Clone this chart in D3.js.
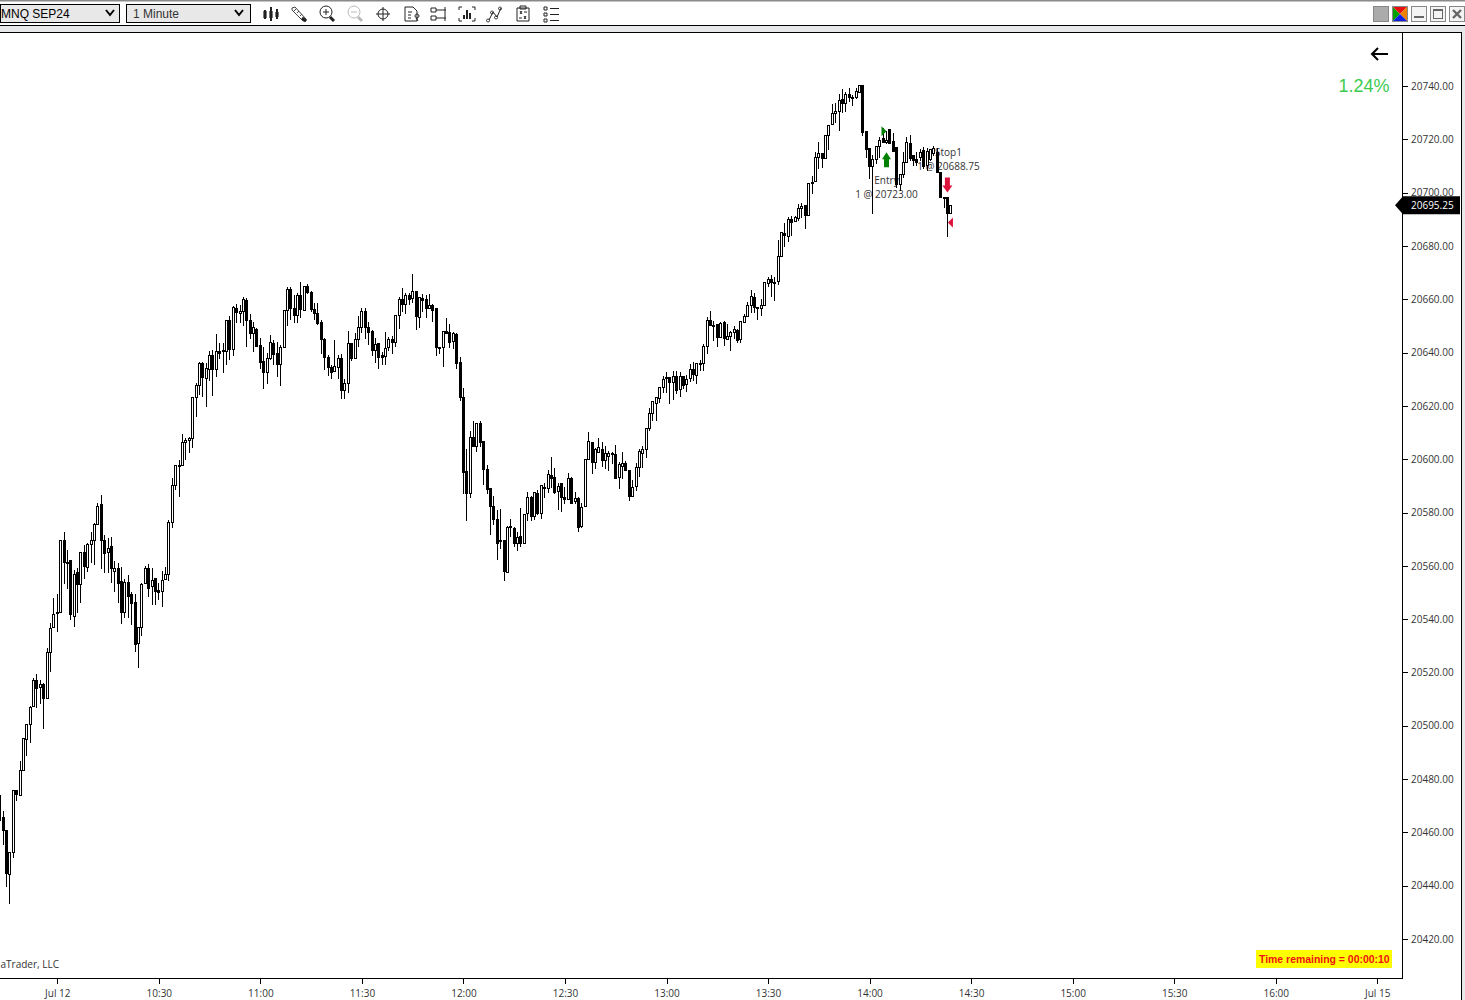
<!DOCTYPE html>
<html><head><meta charset="utf-8">
<style>html,body{margin:0;padding:0;background:#fff;overflow:hidden}svg{display:block}text{font-family:"Open Sans",sans-serif}</style>
<script src="https://cdn.jsdelivr.net/npm/d3@7/dist/d3.min.js"></script>
</head><body><svg id="c" width="1465" height="1000"></svg>
<script>
const firstBarMinute = -17;
const opens = [20474,20465.75,20461,20444.5,20452.75,20476,20474,20483.5,20495,20500.5,20507.5,20517,20514.5,20515.75,20510.5,20527.75,20537,20542.5,20542.75,20569.75,
20561.5,20562.25,20541.25,20557.5,20553,20565.25,20559.5,20568.25,20569.5,20575.75,20583.25,20569.75,20565.25,20567.5,20558,20559.25,20554.25,20542.5,20554,20549.5,
20546.5,20531,20537,20553.5,20559,20552.25,20555.5,20551,20550.5,20555,20557,20576.5,20590.5,20597.75,20597.75,20606.5,20607.25,20608,20623.5,20628,
20636,20630.5,20634,20639,20634,20640.5,20640.5,20640.5,20652.25,20641.5,20656.75,20654.75,20655.5,20659.75,20652.25,20647.25,20648.75,20642.75,20636.75,20632.75,
20638,20643.5,20639.75,20635.75,20642,20656,20663.75,20656.75,20654,20661.5,20656,20665,20662.75,20656.25,20654.75,20651.5,20645,20638.25,20634.5,20633,
20634.5,20638,20626,20628.75,20643.5,20638,20645,20649.5,20655.5,20649.5,20648,20641,20643.5,20639,20638.75,20642,20645,20644,20654,20660,
20658.25,20661.5,20660.5,20663,20653.5,20660.5,20660,20656.75,20657.75,20656.75,20642,20642,20648,20647.75,20644.5,20647,20636.5,20623.5,20595.5,20587.5,
20608.5,20605,20613.75,20607,20596.5,20589.25,20582.5,20577.5,20569.75,20569.75,20557.5,20575,20574.25,20568.5,20571.25,20568.5,20579.75,20585.75,20578.5,20587.5,
20579.75,20589.5,20589.25,20594,20593.5,20588,20591,20585.75,20585,20593,20584.5,20585.5,20575,20582.5,20600,20606.5,20599,20602.75,20604,20599.75,
20601.25,20602.5,20602,20593.5,20597.5,20598.5,20596,20586.25,20590,20597,20602.5,20603.75,20611.75,20617.5,20621,20623,20627,20630.5,20630.75,20629,
20631.25,20626.5,20631.25,20628.25,20630.5,20634,20631.5,20636,20636,20642.5,20652.25,20650.25,20650.75,20645.75,20651.5,20645,20646.25,20647.75,20648.5,20645,
20651.5,20653.75,20657.75,20660.75,20657,20656.75,20657.75,20666,20667.5,20666.5,20666.75,20676.25,20684.75,20683.75,20690,20689.5,20690.5,20694.25,20695.5,20691.5,
20703.5,20704.5,20713.5,20715,20713,20721.5,20725.75,20730,20730.75,20735,20733.5,20737,20735.75,20735.75,20737.75,20740.5,20723,20716.75,20710,20712.75,
20717.5,20720.5,20719,20723.75,20719.25,20717,20703.25,20707,20711.5,20718.5,20714,20712.5,20713.5,20716,20710.5,20712.5,20715,20715.25,20707.75,20698.5,20698.5,20692.5];
const highs = [20476,20468,20461,20452.75,20476,20476,20486.75,20495.5,20500.75,20507.5,20518,20519.5,20517.25,20516,20529,20538.5,20548,20549.5,20569.75,20572.5,
20566,20562.25,20558.5,20559,20565.25,20567.75,20568.5,20572.5,20576,20583.5,20586.5,20571.5,20570.5,20570.75,20561.75,20561,20559.5,20555,20556.5,20550.25,
20549.5,20537,20553.5,20560,20560.5,20559,20555.5,20553.5,20558,20559.5,20577.25,20593,20597.75,20599.75,20609.5,20608,20608.5,20623.5,20628.5,20636.5,
20636.5,20636,20640.5,20641,20647,20643.5,20643.5,20652.25,20653.75,20657.5,20658.25,20657.75,20660.75,20660.5,20654.5,20651.5,20649.25,20645.5,20642,20639.75,
20646.5,20644.75,20644,20642.75,20656,20664.5,20664.5,20661.5,20662.25,20666.5,20665,20665.75,20663,20658.5,20658.5,20652.25,20645.5,20639,20635.25,20644.75,
20639,20639.5,20630,20648,20643.5,20647.5,20653.75,20656.75,20656.75,20651.5,20648.5,20645.5,20643.5,20640.25,20647.75,20645.75,20646.25,20654,20660.75,20664.25,
20662.25,20662.25,20669.5,20663,20660.75,20662,20661.5,20662,20658.25,20656.75,20642,20648,20653,20650.75,20647.75,20647.5,20638.5,20626.75,20603.75,20610.5,
20614.5,20613.75,20614.5,20607,20597.75,20589.25,20586.25,20581,20581.5,20569.75,20575,20577.5,20574.5,20572.5,20581.75,20579.5,20587.75,20586.25,20587.75,20588.5,
20590.5,20591,20596,20601,20596.75,20591,20591,20589.5,20595,20593.5,20587.75,20585.75,20583.5,20600,20610.25,20606.5,20604.25,20608,20606.5,20605,
20603,20602.75,20605.25,20599,20602.75,20599.5,20596,20592.25,20598.5,20603.75,20605,20611.75,20619.25,20621.75,20623.5,20627,20631.25,20632.75,20630.75,20633,
20633,20632.75,20631.25,20631.5,20635.75,20636.5,20636,20637.25,20643.25,20653.5,20655.5,20651.75,20650.75,20651.5,20651.75,20650.75,20648,20650,20648.75,20651.75,
20654.5,20659,20663.5,20662.25,20657,20660,20666.5,20668.5,20669,20668.5,20682.25,20685.25,20688.5,20690.75,20691.25,20691.25,20695.75,20696,20695.5,20703.5,
20706.25,20715.25,20719,20714.75,20721.5,20725.5,20733.25,20733.5,20737,20739,20737.75,20739.25,20736.5,20739.25,20740.5,20740.5,20723,20716.75,20714,20717.5,
20721,20724.25,20723,20723.75,20722.5,20717,20707,20715.25,20721,20721.5,20714,20715.25,20716.5,20717,20716.75,20716.5,20717.5,20716.75,20707.75,20698.5,20698.5,20695.5];
const lows = [20457.25,20455.5,20440,20433.5,20450.75,20472.25,20474,20483.5,20489,20494,20507.5,20507,20508.5,20499.25,20510.5,20520.5,20537,20535.5,20542.75,20553.5,
20551.75,20540,20537.5,20542.5,20546.5,20555.5,20558,20561.5,20560.5,20575.75,20559.25,20557.75,20557.75,20554,20550.5,20546.5,20538.5,20540.75,20540.75,20538.25,
20528,20522,20534,20553.5,20548.5,20545.5,20545.75,20547.5,20545,20555,20554.5,20574.5,20588.75,20586.25,20597.75,20600,20602.75,20604.5,20616.25,20624.5,
20623.75,20620,20629.75,20624,20631.25,20638,20632.75,20635.75,20637.5,20639,20651.5,20651.5,20650.25,20642.5,20645.5,20640.5,20642.5,20634.25,20626.75,20628.75,
20637.5,20635.75,20631.25,20627.75,20642,20650.25,20652.5,20651.5,20651.5,20653.5,20656,20662.25,20655.5,20652.5,20650.75,20639.75,20633.75,20631.75,20630.5,20633,
20630.5,20623,20623,20625.25,20637.25,20638,20642.5,20647.75,20645.5,20643.25,20639,20636.5,20634.25,20635.75,20635.75,20641,20639.75,20642.5,20649.25,20655.5,
20654.75,20658.25,20659,20648.75,20649.5,20655.5,20653.5,20656.75,20651.75,20639,20639.75,20635,20647.5,20642,20641.75,20634.25,20622.25,20587.5,20577,20586,
20605,20603,20605,20590.75,20587.5,20572,20575.75,20562.5,20566.75,20554.75,20557.5,20571.25,20567.5,20566,20567.5,20568.5,20577,20577.25,20577.5,20579.5,
20578,20586,20587.75,20589.5,20587.5,20581.5,20580.5,20583.5,20585,20583.5,20583.5,20573,20574.5,20582.5,20600,20595,20596.75,20602.75,20597.5,20596.75,
20596,20598.5,20593,20589.25,20593,20596,20584.75,20586.25,20588.5,20593.75,20597,20600.75,20611,20614.75,20614.75,20621.5,20625.25,20625.25,20621,20622.5,
20624.75,20623.75,20626.75,20625.5,20629.5,20629.75,20628.75,20633.5,20633.5,20639.75,20650.25,20644.75,20642.5,20646,20642.75,20645,20641,20645.5,20644,20644,
20651.5,20653.75,20655.25,20655.25,20652.5,20654,20657.75,20665,20661.25,20659.75,20665.75,20676.25,20680,20682,20684,20689.5,20689.75,20691,20686.75,20691.5,
20700,20704.5,20709.25,20709.75,20713,20716.5,20725.75,20726.5,20723.5,20730.25,20730.5,20734.5,20732.75,20735.5,20737.75,20721.5,20713.5,20705.5,20692.5,20711,
20713.5,20719,20718.5,20718.5,20715.5,20702,20701,20705.75,20711.5,20712.25,20710.5,20710.5,20712.25,20709.25,20708.5,20712.25,20714,20707.75,20698.5,20694.5,20683.75,20692.5];
const closes = [20464.75,20461,20444.75,20452.75,20476,20474.5,20483.5,20495.5,20500.75,20507,20517,20514,20515.75,20510.5,20527.75,20536.75,20542,20542.75,20569.75,20561.5,
20561,20541.75,20557,20553.25,20565.25,20560,20568.25,20569.5,20575.75,20582.5,20569.5,20564.75,20566.75,20559,20559.25,20553.5,20542.5,20554,20548.75,20546,
20530.75,20537,20553.25,20559.25,20551.75,20554.75,20550.5,20550.25,20554.5,20557,20576.5,20590.5,20597.75,20597.5,20606.5,20607.25,20608,20623.5,20628,20636,
20630.75,20634.25,20639,20634,20640.5,20639.75,20641,20652.25,20641.5,20657,20655.25,20655.5,20660,20652.25,20647.25,20649.5,20642.5,20636.5,20632.75,20638,
20644,20639.5,20635.75,20642,20656,20663.75,20656.75,20654,20661.5,20656.25,20665,20662.75,20656.25,20654.75,20651,20645,20638.25,20634.5,20632.75,20635,
20638,20626,20628.75,20643.5,20638,20645,20649.5,20655.5,20649.5,20647.75,20641,20643.25,20638.25,20638.25,20641.75,20645,20644,20654,20660,20658.25,
20661.5,20660,20663,20653.75,20660.75,20659.75,20656.75,20657.75,20656,20642,20641.75,20648,20647.5,20644,20647.5,20636,20623.5,20595.25,20587.5,20608.5,
20605,20613.75,20606.5,20596.5,20589,20582.5,20577.5,20568.5,20569.5,20558,20574.5,20574.5,20568.5,20570.75,20568.5,20579.5,20585.75,20578.5,20587.75,20579.75,
20590.5,20589.25,20594.5,20593,20587.75,20590,20585.75,20585,20593,20583.5,20585.5,20574.5,20582,20600,20606.75,20599,20604,20604.5,20599.75,20602.5,
20602.5,20602,20593,20598.25,20598.5,20596,20586.25,20589.5,20597,20603,20603.75,20611.75,20617.5,20621.75,20623.5,20627,20630,20630.75,20629,20631.25,
20626,20631.25,20627.75,20630,20634,20632,20636,20635.75,20642.5,20652.25,20650.25,20650,20645.75,20651,20645.5,20646.25,20647.75,20648.75,20644.75,20651.75,
20653.75,20657.75,20661.25,20657,20656.75,20657.75,20666.5,20667.5,20666.5,20666,20676.25,20685.25,20684,20690,20689,20691,20694.25,20695,20691.5,20703.5,
20704,20713.5,20715,20713,20721.5,20725.5,20730,20730.75,20734.75,20733.5,20737,20735.75,20735.5,20738,20740.5,20722.75,20716.5,20710,20712.75,20717.5,
20719.75,20719,20719.75,20718.5,20715.5,20703.25,20707,20711.5,20719,20713,20712.25,20711.5,20715.25,20710,20715.5,20716.5,20716.75,20707.75,20698.5,20698,20692.5,20695.25];

const priceTicks = [20420,20440,20460,20480,20500,20520,20540,20560,20580,20600,20620,20640,20660,20680,20700,20720,20740];
const timeTickMinutes = [0,30,60,90,120,150,180,210,240,270,300,330,360,390];
const timeTickLabels = ["Jul 12","10:30","11:00","11:30","12:00","12:30","13:00","13:30","14:00","14:30","15:00","15:30","16:00","Jul 15"];
const lastPrice = 20695.25;
const entryPrice = 20723.00, exitPrice = 20688.75, entryMinute = 245, exitMinute = 263;
const gainText = "1.24%";
const timerText = "Time remaining = 00:00:10";
const vendorText = "aTrader, LLC";

const svg = d3.select("#c");
const x = d3.scaleLinear().domain([0,270]).range([57.3,971.1]);
const y = d3.scaleLinear().domain([20420,20740]).range([939,86]);
const F = '"Open Sans",sans-serif', FS = 10, INK = "#333";

/* window chrome */
svg.append("rect").attr("width",1465).attr("height",1000).attr("fill","#fff");
svg.append("rect").attr("width",1465).attr("height",1.5).attr("fill","#8a8a8a");
svg.append("rect").attr("y",25).attr("width",1465).attr("height",8).attr("fill","#e6e8ea");
svg.append("rect").attr("y",25).attr("width",1465).attr("height",1).attr("fill","#000");
svg.append("rect").attr("x",1462).attr("y",26).attr("width",3).attr("height",974).attr("fill","#e6e8ea");
svg.append("rect").attr("x",0).attr("y",32).attr("width",1462).attr("height",1).attr("fill","#000");
svg.append("rect").attr("x",1461).attr("y",32).attr("width",1).attr("height",968).attr("fill","#000");
svg.append("rect").attr("x",1402).attr("y",32).attr("width",1).attr("height",947).attr("fill","#000");
svg.append("rect").attr("x",0).attr("y",978).attr("width",1403).attr("height",1).attr("fill","#000");

/* instrument and interval pickers */
[[0,119,"MNQ SEP24",1,"#000",110],[126,124,"1 Minute",133,"#333",239]].forEach(([bx,bw,t,tx,c,cv])=>{
  svg.append("rect").attr("x",bx+.5).attr("y",4.5).attr("width",bw).attr("height",18).attr("fill","#e8e8e8").attr("stroke","#000");
  svg.append("text").attr("x",tx).attr("y",18).attr("font-size",12).attr("fill",c).style("font-family",'"Liberation Sans"').text(t);
  svg.append("path").attr("d",`M${cv-4},10 L${cv},15 L${cv+4},10`).attr("fill","none").attr("stroke","#000").attr("stroke-width",2);
});

/* toolbar icons */
const ic = svg.append("g").attr("fill","none").attr("stroke","#222").attr("stroke-width",1);
const icon = (cx,d,extra={})=>{const p=ic.append("path").attr("transform",`translate(${cx},14)`).attr("d",d);Object.entries(extra).forEach(([k,v])=>p.attr(k,v));};
icon(271,"M-6,-4V5 M-6,-2V3 M0,-7V7 M6,-5V5",{"stroke-width":2});
icon(271,"M-6,-3V4 M0,-3V4 M6,-2V3",{"stroke-width":3.2});
icon(299,"M-7,-6 L-4,-7 L7,5 L7,7 L4,7 L-7,-4 Z M-5,-3 L-3,-5 M-2,-1 L0,-3 M1,2 L3,0",{"stroke":"#444"});
icon(299,"M3,4 L7,7",{"stroke-width":3,"stroke":"#222"});
icon(327,"M-1,-2 m-6,0 a6,6 0 1,0 12,0 a6,6 0 1,0 -12,0 M-4,-2 h6 M-1,-5 v6 ");
icon(327,"M3,3 L7,7",{"stroke-width":3});
icon(355,"M-1,-2 m-6,0 a6,6 0 1,0 12,0 a6,6 0 1,0 -12,0 M-4,-2 h6",{"stroke":"#bbb"});
icon(355,"M3,3 L7,7",{"stroke-width":3,"stroke":"#bbb"});
icon(383,"M-5,0 a5,5 0 1,0 10,0 a5,5 0 1,0 -10,0 M-7,0 h14 M0,-7 v14");
icon(411,"M-6,-7 h8 l4,4 v10 h-12 Z M-3,-2 h4 M-3,1 h3 M-3,4 h3 M4,2 a2,2 0 1,0 0,-.1 M5,4 l2,3");
icon(438,"M-7,-6 h5 v4 h-5 Z M-7,2 h5 v4 h-5 Z M-2,-4 h10 M-2,4 h10 M7,-7 v14");
icon(467,"M-8,-4 v-3 h3 M5,-7 h3 v3 M8,4 v3 h-3 M-5,7 h-3 v-3");
icon(467,"M-3,5 v-4 M0,5 v-9 M3,5 v-6",{"stroke-width":2});
icon(495,"M-6,6 L-2,-2 L2,3 L6,-6 M-7,5 a1.5,1.5 0 1,0 .1,0 M-3,-3 a1.5,1.5 0 1,0 .1,0 M1,2 a1.5,1.5 0 1,0 .1,0 M5,-7 a1.5,1.5 0 1,0 .1,0");
icon(523,"M-6,-6 h12 v13 h-12 Z M-3,-8 h6 v3 h-6 Z M-3,-3 l2,3 M-1,-3 l-2,3 M1,2 l2,3 M3,2 l-2,3 M1,-2 h3 M-4,4 h3");
icon(551,"M-7,-7 h3 v3 h-3 Z M-7,-1 h3 v3 h-3 Z M-7,5 h3 v3 h-3 Z M-1,-5.5 h9 M-1,.5 h9 M-1,6.5 h9");

/* window buttons */
svg.append("rect").attr("x",1373.5).attr("y",6.5).attr("width",15).attr("height",15).attr("fill","#ababab").attr("stroke","#888");
const cs=[1392.5,6.5];
[["#00a000",`M0,0 L7.5,7.5 L0,15Z`],["#e81010",`M0,0 L15,0 L7.5,7.5Z`],["#f08000",`M15,0 L15,15 L7.5,7.5Z`],["#1020e0",`M0,15 L15,15 L7.5,7.5Z`]].forEach(([c,d])=>
  svg.append("path").attr("transform",`translate(${cs})`).attr("d",d).attr("fill",c));
svg.append("rect").attr("x",cs[0]).attr("y",cs[1]).attr("width",15).attr("height",15).attr("fill","none").attr("stroke","#888");
[1411.5,1430.5,1449.5].forEach(bx=>svg.append("rect").attr("x",bx).attr("y",6.5).attr("width",15).attr("height",15).attr("fill","#f4f4f4").attr("stroke","#888"));
svg.append("rect").attr("x",1414).attr("y",16).attr("width",10).attr("height",2).attr("fill","#666");
svg.append("rect").attr("x",1433.5).attr("y",9.5).attr("width",9).attr("height",9).attr("fill","none").attr("stroke","#666");
svg.append("rect").attr("x",1433).attr("y",9).attr("width",10).attr("height",2).attr("fill","#666");
svg.append("path").attr("d","M1453,10 L1461,18 M1461,10 L1453,18").attr("stroke","#666").attr("stroke-width",2.4);

/* axes */
const axisR = d3.axisRight(y).tickValues(priceTicks).tickSize(5).tickPadding(3).tickFormat(d=>d.toFixed(2));
const gR = svg.append("g").attr("transform","translate(1403,0)").call(axisR);
gR.select(".domain").remove();
gR.selectAll("line").attr("stroke","#000").attr("shape-rendering","crispEdges");
gR.selectAll("text").style("font-family",F).attr("font-size",FS).attr("fill",INK);
const axisB = d3.axisBottom(x).tickValues(timeTickMinutes).tickSize(5).tickPadding(6).tickFormat((d,i)=>timeTickLabels[i]);
const gB = svg.append("g").attr("transform","translate(0,979)").call(axisB);
gB.select(".domain").remove();
gB.selectAll("line").attr("stroke","#000").attr("shape-rendering","crispEdges");
gB.selectAll("text").style("font-family",F).attr("font-size",FS).attr("fill",INK);

/* plot */
const plot = svg.append("g");
const lbl = (px,py,t,a)=>plot.append("text").attr("x",px).attr("y",py).attr("text-anchor",a||"middle").style("font-family",F).attr("font-size",FS).attr("fill",INK).text(t);
lbl(x(entryMinute),184,"Entry");
lbl(x(entryMinute),198,"1 @ "+entryPrice.toFixed(2));
lbl(x(exitMinute)+1,156,"Stop1");
lbl(x(exitMinute)+1,170,"1 @ "+exitPrice.toFixed(2));
lbl(0.5,968,vendorText,"start");

const bars = opens.map((o,i)=>({m:firstBarMinute+i,o,h:highs[i],l:lows[i],c:closes[i]}));
const g = plot.append("g").attr("shape-rendering","crispEdges");
const px = d=>Math.floor(x(d.m));
g.selectAll("line").data(bars).join("line")
  .attr("x1",d=>px(d)+.5).attr("x2",d=>px(d)+.5)
  .attr("y1",d=>Math.round(y(d.h))).attr("y2",d=>Math.round(y(d.l))+1)
  .attr("stroke","#000");
g.selectAll("rect").data(bars).join("rect")
  .attr("x",d=>px(d)-.5).attr("width",2)
  .attr("y",d=>Math.round(y(Math.max(d.o,d.c)))+.5)
  .attr("height",d=>Math.max(1,Math.round(y(Math.min(d.o,d.c)))-Math.round(y(Math.max(d.o,d.c)))))
  .attr("fill",d=>d.c>=d.o?"#fff":"#000").attr("stroke","#000");

/* trade markers */
const ex = x(entryMinute), xx = x(exitMinute);
plot.append("path").attr("transform",`translate(${ex},${y(entryPrice)})`).attr("d","M-5,-5 L0,0 L-5,5 Z").attr("fill","#008000");
plot.append("path").attr("transform",`translate(${ex},${y(entryPrice)+36})`).attr("d","M0,-15 L4.5,-8 L2.5,-8 L2.5,0 L-2.5,0 L-2.5,-8 L-4.5,-8 Z").attr("fill","#008000");
plot.append("path").attr("transform",`translate(${xx},${y(exitPrice)-30})`).attr("d","M0,0 L5,-7 L2.5,-7 L2.5,-15 L-2.5,-15 L-2.5,-7 L-5,-7 Z").attr("fill","#dc143c");
plot.append("path").attr("transform",`translate(${xx+5.5},${y(exitPrice)})`).attr("d","M0,-5 L-5,0 L0,5 Z").attr("fill","#dc143c");

/* last price tag */
const ly = y(lastPrice);
svg.append("path").attr("transform",`translate(0,${ly})`).attr("d","M1395,0 L1403,-9 H1460 V9 H1403 Z").attr("fill","#000");
svg.append("text").attr("x",1411).attr("y",ly+4).style("font-family",F).attr("font-size",FS).attr("fill","#fff").text(lastPrice.toFixed(2));

/* back arrow, gain, timer */
svg.append("path").attr("d","M1388,54 H1372 M1378,48 L1372,54 L1378,60").attr("fill","none").attr("stroke","#000").attr("stroke-width",2);
svg.append("text").attr("x",1389.5).attr("y",92).attr("text-anchor","end").style("font-family",'"Liberation Sans"').attr("font-size",18).attr("fill","#3ccb50").text(gainText);
svg.append("rect").attr("x",1256).attr("y",950).attr("width",136).attr("height",18).attr("fill","#ffff00");
svg.append("text").attr("x",1259).attr("y",963).style("font-family",'"Liberation Sans"').attr("font-weight","bold").attr("font-size",10.45).attr("fill","#f01010").text(timerText);
</script></body></html>
